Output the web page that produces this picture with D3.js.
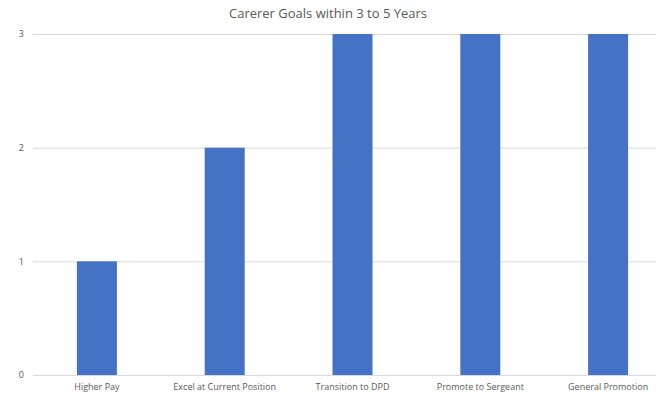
<!DOCTYPE html>
<html>
<head>
<meta charset="utf-8">
<script src="https://cdn.jsdelivr.net/npm/d3@7"></script>
<style>
  body { margin: 0; background: #fff; }
  svg { display: block; font-family: "Open Sans", "Noto Sans", sans-serif; }
</style>
</head>
<body>
<div id="chart"></div>
<script>
var categories = ["Higher Pay", "Excel at Current Position", "Transition to DPD", "Promote to Sergeant", "General Promotion"];
var values = [1, 2, 3, 3, 3];
var yTicks = [0, 1, 2, 3];
var title = "Carerer Goals within 3 to 5 Years";

var width = 656, height = 394,
  margin = { top: 34, right: -16, bottom: 19, left: 33 },
  barColor = '#4472c4',
  gridColor = '#d9d9d9',
  textColor = '#595959',
  font = '"Open Sans", "Noto Sans", sans-serif';

var svg = d3.select('#chart').append('svg')
  .attr('width', width)
  .attr('height', height);

var x = d3.scaleBand()
  .domain(categories)
  .range([margin.left, width - margin.right])
  .paddingInner(0.687)
  .paddingOuter(0.3435);

var y = d3.scaleLinear()
  .domain([0, 3])
  .range([height - margin.bottom, margin.top]);

// Title
svg.append('text')
  .attr('x', width / 2)
  .attr('y', 18)
  .attr('text-anchor', 'middle')
  .style('font-size', '13px')
  .style('fill', textColor)
  .text(title);

// Y axis with gridlines
var yAxis = d3.axisLeft(y)
  .tickValues(yTicks)
  .tickSize(-(width - margin.left))
  .tickPadding(9)
  .tickFormat(d3.format('d'));

svg.append('g')
  .attr('transform', 'translate(' + margin.left + ',0)')
  .call(yAxis)
  .attr('font-family', font)
  .call(g => g.select('.domain').remove())
  .call(g => g.selectAll('.tick line').attr('stroke', gridColor))
  .call(g => g.selectAll('.tick text')
    .style('font-size', '9px')
    .style('fill', textColor));

// Bars
svg.append('g')
  .selectAll('rect')
  .data(values)
  .join('rect')
  .attr('x', (d, i) => x(categories[i]))
  .attr('y', d => y(d))
  .attr('width', x.bandwidth())
  .attr('height', d => y(0) - y(d))
  .attr('fill', barColor);

// X axis labels
var xAxis = d3.axisBottom(x)
  .tickSize(0)
  .tickPadding(9);

svg.append('g')
  .attr('transform', 'translate(0,' + y(0) + ')')
  .call(xAxis)
  .attr('font-family', font)
  .call(g => g.select('.domain').remove())
  .call(g => g.selectAll('.tick text')
    .style('font-size', '9px')
    .style('fill', textColor));
</script>
</body>
</html>
